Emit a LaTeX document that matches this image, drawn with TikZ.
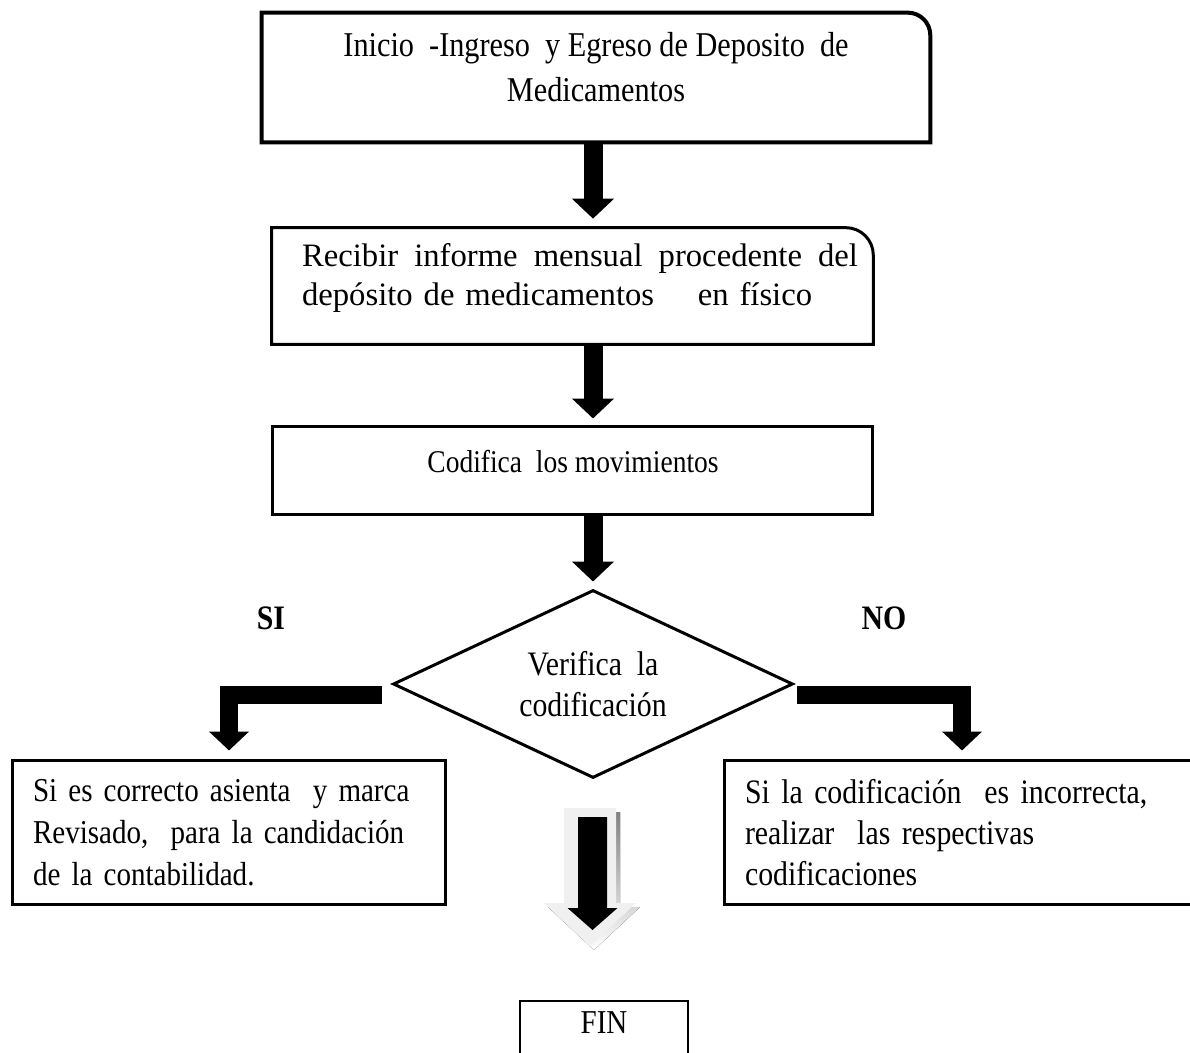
\documentclass[tikz,border=0pt]{standalone}
\usepackage{fontspec}
\setmainfont[FakeStretch=0.87]{Liberation Serif}
\newfontfamily\widefont{Liberation Serif}
\usetikzlibrary{arrows.meta,calc,shapes.geometric}

\definecolor{paleface}{HTML}{F0F0F0}
\definecolor{shade}{HTML}{C4C4C4}

\begin{document}
\begin{tikzpicture}[x=0.02cm, y=-0.02cm,
  txt/.style={font=\fontsize{19}{24}\selectfont, inner sep=0pt},
  frame/.style={draw=black, line width=0.06cm, inner sep=0pt},
  bigarrow/.style={line width=0.38cm, -{Triangle[width=0.82cm,length=0.4cm]}},
  elbow/.style={line width=0.35cm, line join=miter, -{Triangle[width=0.78cm,length=0.38cm]}},
]
\useasboundingbox (0,0) rectangle (1190,1053);
\clip (0,0) rectangle (1190,1053);

% start box, top right corner rounded
\node[minimum width=13.36cm, minimum height=2.58cm, inner sep=0pt] (start) at (596,77.5) {};
\draw[line width=0.08cm] (start.south west) -- (start.north west)
  [rounded corners=0.45cm] -- (start.north east) [sharp corners]
  -- (start.south east) -- cycle;
\node[txt, align=center, font=\fontsize{19.8}{25.5}\selectfont] (starttext) at (596,67.5)
  {Inicio\ \ -Ingreso\ \ y Egreso de Deposito\ \ de\\Medicamentos};

% monthly report box, top right corner rounded
\node[minimum width=12.02cm, minimum height=2.32cm, inner sep=0pt] (report) at (572.5,286) {};
\draw[line width=0.06cm] (report.south west) -- (report.north west)
  [rounded corners=0.55cm] -- (report.north east) [sharp corners]
  -- (report.south east) -- cycle;
\node[txt, text width=11.12cm, align=left, font=\widefont\fontsize{18.6}{22.7}\selectfont] (reporttext) at (580,278)
  {\makebox[11.12cm][l]{Recibir\hfill informe\hfill mensual\hfill procedente\hfill del}\\depósito de medicamentos\hspace{1em} en físico};

% coding box
\node[frame, minimum width=12.02cm, minimum height=1.78cm] (code) at (572.5,470.5) {};
\node[txt, font=\fontsize{18}{24}\selectfont] (codetext) at (573,462) {Codifica\ \ los movimientos};

% decision
\node[draw, diamond, line width=0.06cm, shape aspect=2.13, minimum width=8cm, minimum height=3.76cm,
  inner sep=0pt, align=center, font=\fontsize{19.5}{23.5}\selectfont] (check) at (593,684)
  {Verifica\ \ la\\codificación};

\node[txt, font=\fontsize{19.5}{24}\selectfont\bfseries] (yeslabel) at (271,618) {SI};
\node[txt, font=\fontsize{19.5}{24}\selectfont\bfseries] (nolabel) at (884,618) {NO};

% outcome boxes
\node[frame, txt, minimum width=8.68cm, minimum height=2.9cm, text width=7.84cm, align=left] (yes) at (229,832.5)
  {Si es correcto asienta\ \ y marca\\Revisado,\ \ para la candidación\\de la contabilidad.};
\node[frame, txt, minimum width=9.52cm, minimum height=2.9cm, text width=8.68cm, align=left,
  font=\fontsize{19.5}{23.2}\selectfont] (no) at (962,832.5)
  {Si la codificación\ \ es incorrecta,\\realizar\ \ las respectivas\\codificaciones};

% end box
\node[draw, line width=0.04cm, minimum width=3.36cm, minimum height=2cm, anchor=north, inner sep=0pt] (fin) at (604,1000) {};
\node[txt] (fintext) at (604,1023) {FIN};

% flow arrows
\draw[bigarrow, shorten >=0.18cm] (check.north |- start.south) -- (check.north |- report.north);
\draw[bigarrow, shorten >=0.12cm] (check.north |- report.south) -- (check.north |- code.north);
\draw[bigarrow, shorten >=0.14cm] (check.north |- code.south) -- (check.north);

\coordinate (yesfrom) at (382,695);
\coordinate (nofrom) at (797,695);
\draw[elbow, shorten >=0.16cm] (yesfrom) -| (yes.north);
\draw[elbow, shorten >=0.16cm] (nofrom) -| (no.north);

% shaded block arrow towards the end
\coordinate (down) at (590,808);
\begin{scope}[shift={(down)}]
  \fill[shade] (-22,4) -- (30,4) -- (30,99) -- (50,99) -- (4,142) -- (-42,99) -- (-22,99) -- cycle;
  \fill[paleface] (-26,0) -- (26,0) -- (26,95) -- (46,95) -- (0,138) -- (-46,95) -- (-26,95) -- cycle;
  \fill[black] (-12,9) -- (17,9) -- (17,100) -- (27.5,100) -- (2.5,122) -- (-22.5,100) -- (-12,100) -- cycle;
\end{scope}
\end{tikzpicture}
\end{document}
